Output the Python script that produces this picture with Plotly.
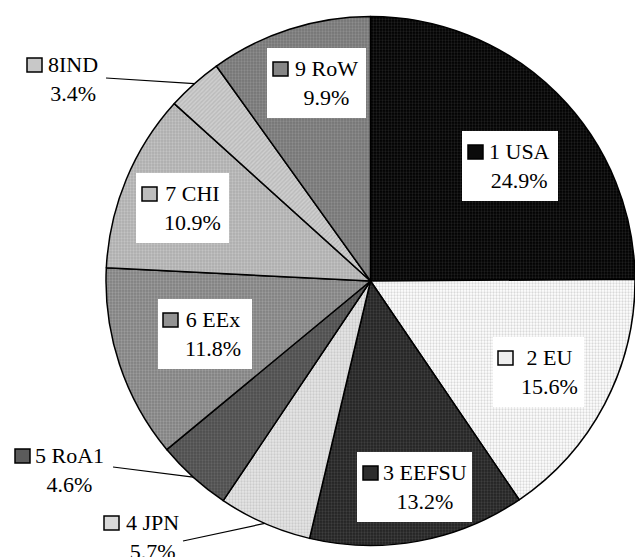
import math
import plotly.graph_objects as go

# Regional shares (%), listed clockwise from 12 o'clock
regions = ["1 USA", "2 EU", "3 EEFSU", "4 JPN", "5 RoA1", "6 EEx", "7 CHI", "8IND", "9 RoW"]
shares = [24.9, 15.6, 13.2, 5.7, 4.6, 11.8, 10.9, 3.4, 9.9]

# Fine dotted textures: background and dot colours per slice, plus the mean tone for keys
tex_bg = ["#000000", "#ffffff", "#222222", "#e6e6e6", "#4c4c4c",
          "#808080", "#acacac", "#bcbcbc", "#747474"]
tex_fg = ["#3c3c3c", "#b4b4b4", "#5a5a5a", "#b0b0b0", "#7c7c7c",
          "#b8b8b8", "#dadada", "#e4e4e4", "#a6a6a6"]
tex_shape = [".", ".", ".", ".", ".", ".", ".", "/", "."]
fills = ["#0b0b0b", "#eeeeee", "#2d2d2d", "#d9d9d9", "#5b5b5b",
         "#939393", "#bdbdbd", "#c8c8c8", "#868686"]

W, H = 635, 557
FONT = "Liberation Serif, Times New Roman, serif"

# Pie geometry in pixels
PIE_X0, PIE_Y0, PIE_Y1 = 106, 15, 547
r_pie = min(W - PIE_X0, PIE_Y1 - PIE_Y0) / 2
cx_pie = PIE_X0 + r_pie
cy_pie = (PIE_Y0 + PIE_Y1) / 2

# Label placement: key square top-left, text centre x, optional white box, optional leader start
label_layout = {
    "1 USA":   dict(key=(468, 145), tx=519, box=(462, 131, 558, 201)),
    "2 EU":    dict(key=(498, 351), tx=549, box=(493, 337, 584, 407)),
    "3 EEFSU": dict(key=(363, 466), tx=425, box=(357, 452, 472, 522)),
    "4 JPN":   dict(key=(104, 516), tx=152, lead=(183, 541)),
    "5 RoA1":  dict(key=(15, 449), tx=69, lead=(113, 467)),
    "6 EEx":   dict(key=(163, 313), tx=213, box=(158, 299, 252, 369)),
    "7 CHI":   dict(key=(142, 187), tx=192, box=(136, 173, 229, 243)),
    "8IND":    dict(key=(27, 58), tx=73, lead=(106, 78)),
    "9 RoW":   dict(key=(273, 62), tx=326, box=(267, 48, 366, 118)),
}
KEY = 15


def px(x):
    return x / W


def py(y):
    return 1 - y / H


fig = go.Figure(go.Pie(
    labels=regions,
    values=shares,
    sort=False,
    direction="clockwise",
    rotation=0,
    textinfo="none",
    hoverinfo="label+percent",
    marker=dict(
        colors=tex_bg,
        line=dict(color="black", width=1.5),
        pattern=dict(shape=tex_shape, fillmode="overlay", fgcolor=tex_fg,
                     size=3, solidity=0.45),
    ),
    domain=dict(x=[px(PIE_X0), 1.0], y=[py(PIE_Y1), py(PIE_Y0)]),
    showlegend=False,
))

shapes = []
annotations = []
cum = 0.0
total = sum(shares)
for name, val, col in zip(regions, shares, fills):
    lay = label_layout[name]
    mid = 2 * math.pi * (cum + val / 2) / total
    cum += val
    kx, ky = lay["key"]
    if "box" in lay:
        x0, y0, x1, y1 = lay["box"]
        shapes.append(dict(type="rect", xref="paper", yref="paper",
                           x0=px(x0), x1=px(x1), y0=py(y1), y1=py(y0),
                           fillcolor="white", line=dict(width=0), layer="above"))
    if "lead" in lay:
        lx, ly = lay["lead"]
        ex = cx_pie + r_pie * math.sin(mid)
        ey = cy_pie - r_pie * math.cos(mid)
        shapes.append(dict(type="line", xref="paper", yref="paper",
                           x0=px(lx), y0=py(ly), x1=px(ex), y1=py(ey),
                           line=dict(color="black", width=1.2), layer="above"))
    shapes.append(dict(type="rect", xref="paper", yref="paper",
                       x0=px(kx), x1=px(kx + KEY), y0=py(ky + KEY - 1), y1=py(ky),
                       fillcolor=col, line=dict(color="black", width=1.5), layer="above"))
    annotations.append(dict(
        xref="paper", yref="paper", x=px(lay["tx"]), y=py(ky + 21),
        xanchor="center", yanchor="middle", showarrow=False, align="center",
        text=f"{name}<br>{val:.1f}%",
        font=dict(family=FONT, size=22, color="black"),
    ))

fig.update_layout(
    width=W, height=H, autosize=False,
    margin=dict(l=0, r=0, t=0, b=0),
    paper_bgcolor="white", plot_bgcolor="white",
    font=dict(family=FONT),
    shapes=shapes, annotations=annotations,
)

fig.write_html("out.html", config={"displayModeBar": False})
